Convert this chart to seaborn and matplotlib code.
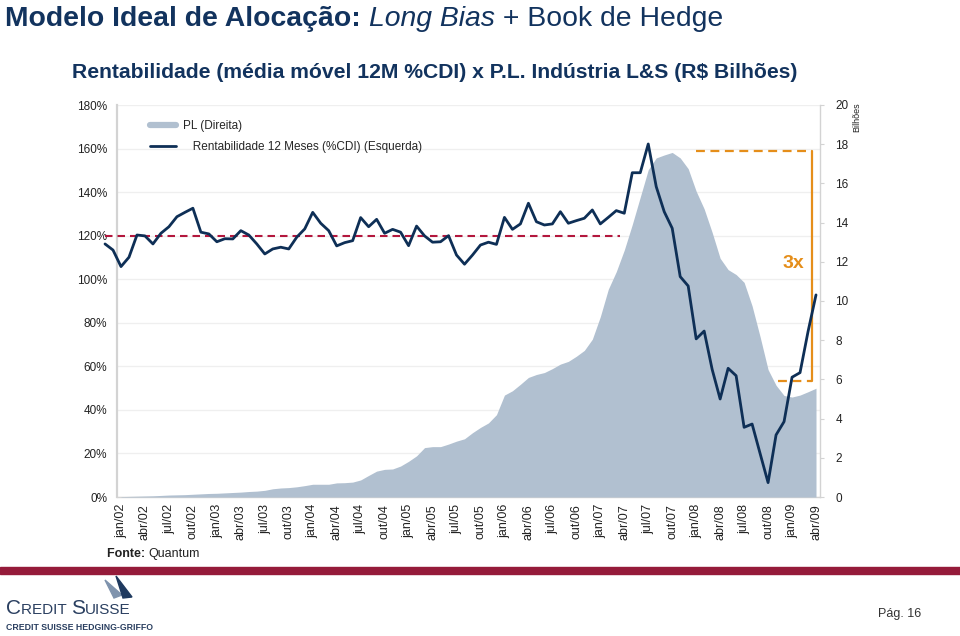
import numpy as np
import pandas as pd
import matplotlib
matplotlib.use("Agg")
import matplotlib.pyplot as plt
import seaborn as sns
from matplotlib import font_manager
from matplotlib.lines import Line2D
from matplotlib.patches import Rectangle, Polygon

# PL da industria L&S (R$ bilhoes), mensal jan/02 .. abr/09
pl_bilhoes = [0.02, 0.03, 0.04, 0.05, 0.06, 0.08, 0.10, 0.11, 0.12, 0.14, 0.16, 0.18,
              0.19, 0.21, 0.23, 0.25, 0.28, 0.30, 0.34, 0.42, 0.46, 0.48, 0.52, 0.58,
              0.65, 0.65, 0.65, 0.72, 0.73, 0.76, 0.87, 1.10, 1.32, 1.41, 1.43, 1.58,
              1.82, 2.10, 2.52, 2.57, 2.57, 2.70, 2.85, 2.97, 3.28, 3.55, 3.78, 4.20,
              5.20, 5.42, 5.75, 6.10, 6.25, 6.35, 6.55, 6.78, 6.92, 7.18, 7.48, 8.05,
              9.20, 10.6, 11.5, 12.6, 13.9, 15.3, 16.7, 17.3, 17.45, 17.58, 17.3, 16.75,
              15.6, 14.7, 13.5, 12.18, 11.6, 11.35, 10.95, 9.75, 8.18, 6.5, 5.7, 5.18,
              5.1, 5.2, 5.37, 5.55]

# rentabilidade 12 meses (%CDI), mensal nov/01 .. abr/09
rentab_12m = [116.2, 113.4, 105.8, 110.1, 120.3, 119.9, 116.2, 121.1, 124.1, 128.7,
              130.7, 132.6, 121.6, 120.8, 117.2, 118.6, 118.5, 122.3, 120.3, 116.2,
              111.6, 113.9, 114.7, 113.9, 119.3, 123.1, 130.7, 125.7, 122.3, 115.3,
              116.8, 117.7, 128.3, 124.1, 127.5, 121.1, 122.9, 121.6, 115.4, 124.4,
              119.9, 117.0, 117.2, 120.0, 111.1, 106.9, 111.1, 115.7, 117.0, 116.0,
              128.4, 122.9, 125.4, 134.9, 126.4, 124.9, 125.4, 131.0, 125.7, 126.9,
              128.0, 131.8, 125.4, 128.4, 131.5, 130.3, 148.9, 148.9, 162.1, 142.5,
              131.0, 123.4, 101.2, 96.9, 72.6, 76.2, 58.6, 45.0, 59.1, 55.7,
              32.0, 33.5, 20.0, 6.6, 28.5, 34.6, 55.0, 57.1, 75.9, 92.8]

rotulos_x = ["jan/02", "abr/02", "jul/02", "out/02", "jan/03", "abr/03", "jul/03", "out/03",
             "jan/04", "abr/04", "jul/04", "out/04", "jan/05", "abr/05", "jul/05", "out/05",
             "jan/06", "abr/06", "jul/06", "out/06", "jan/07", "abr/07", "jul/07", "out/07",
             "jan/08", "abr/08", "jul/08", "out/08", "jan/09", "abr/09"]

meta_cdi = 120      # linha tracejada vermelha (%CDI)
pl_pico = 17.65     # marcação laranja superior
pl_atual = 5.9      # marcação laranja inferior

AZUL = "#0E2F56"
AREA = "#B1C0D0"
VERMELHO = "#B3173D"
LARANJA = "#E58E1A"
CINZA = "#D3D3D3"

sns.set_theme(style="white")
plt.rcParams['font.family'] = ['Liberation Sans', 'DejaVu Sans']
nomes = {f.name for f in font_manager.fontManager.ttflist}
NARROW = 'Liberation Sans Narrow' if 'Liberation Sans Narrow' in nomes else 'Liberation Sans'

W, H = 960, 636
fig = plt.figure(figsize=(W / 100, H / 100), dpi=100)
pos = [117 / W, 1 - 497 / H, (820 - 117) / W, (497 - 105) / H]

ax = fig.add_axes(pos)
ax2 = ax.twinx()
ax3 = fig.add_axes(pos, sharex=ax, sharey=ax)
ax3.set_axis_off()
ax3.patch.set_visible(False)

df_pl = pd.DataFrame({"mes": np.arange(len(pl_bilhoes)), "pl": pl_bilhoes})
df_rent = pd.DataFrame({"mes": np.arange(len(rentab_12m)) - 2, "rentab": rentab_12m})

# area do PL (eixo direito)
ax2.fill_between(df_pl["mes"], df_pl["pl"], color=AREA, lw=0, zorder=1)
ax2.set_ylim(0, 20)
ax2.set_yticks(range(0, 21, 2))

# marcações laranja
ax2.plot([72, 86.5], [pl_pico, pl_pico], color=LARANJA, lw=1.6, ls=(0, (4, 2.5)), zorder=3)
ax2.plot([82.2, 86.5], [pl_atual, pl_atual], color=LARANJA, lw=1.6, ls=(0, (4, 2.5)), zorder=3)
ax2.plot([86.5, 86.5], [pl_atual, pl_pico], color=LARANJA, lw=1.6, zorder=3)
ax2.text(84.2, 11.9, "3x", color=LARANJA, fontsize=14, fontweight="bold",
         ha="center", va="center", zorder=3)

# rentabilidade (eixo esquerdo)
ax3.plot([-2, 62.5], [meta_cdi, meta_cdi], color=VERMELHO, lw=1.5,
         ls=(0, (3.6, 2.4)), clip_on=False, zorder=2)
sns.lineplot(data=df_rent, x="mes", y="rentab", ax=ax3, color=AZUL, lw=2.0,
             clip_on=False, zorder=3, legend=False)

ax.set_ylim(0, 180)
ax.set_xlim(-0.5, 87.5)
ax.set_yticks(range(0, 181, 20))
ax.set_yticklabels([f"{v}%" for v in range(0, 181, 20)])
ax.set_xticks(range(0, 88, 3))
ax.set_xticklabels(rotulos_x, rotation=90)
ax.yaxis.grid(True, color="#EFEFEF", lw=0.9)
ax.set_xlabel("")
ax.set_ylabel("")

for s in ["top", "right"]:
    ax.spines[s].set_visible(False)
for s in ["top", "left", "bottom"]:
    ax2.spines[s].set_visible(False)
ax.spines["left"].set_color(CINZA)
ax.spines["left"].set_linewidth(1.6)
ax.spines["bottom"].set_color(CINZA)
ax.spines["bottom"].set_linewidth(1.0)
ax2.spines["right"].set_color(CINZA)
ax2.spines["right"].set_linewidth(1.0)

ax.tick_params(axis="y", length=0, pad=7, labelsize=8.5, labelcolor="#222222")
ax.tick_params(axis="x", length=0, pad=5, labelsize=9, labelcolor="#222222")
ax2.tick_params(axis="y", length=3, width=0.8, color=CINZA, pad=8, labelsize=8.5,
                labelcolor="#222222")

fig.text(857 / W, 1 - 117 / H, "Bilhões", rotation=90, fontsize=6.5,
         ha="center", va="center", color="#222222")

# legenda
handles = [Line2D([], [], color=AREA, lw=4.5), Line2D([], [], color=AZUL, lw=2.0)]
ax3.legend(handles, ["PL (Direita)", "   Rentabilidade 12 Meses (%CDI) (Esquerda)"],
           loc="upper left", bbox_to_anchor=((150 - 117) / 703, (497 - 120) / 392),
           frameon=False, fontsize=8.5, handlelength=2.2, handletextpad=0.6,
           labelspacing=0.75, borderpad=0, borderaxespad=0)

rend = fig.canvas.get_renderer()


def largura(txt, **props):
    t1 = fig.text(0, 0, "|" + txt + "|", **props)
    t2 = fig.text(0, 0, "||", **props)
    w = t1.get_window_extent(rend).width - t2.get_window_extent(rend).width
    t1.remove()
    t2.remove()
    return w


def texto_misto(x_px, y_px, partes, **comum):
    x = x_px
    for txt, props in partes:
        p = dict(comum, **props)
        fig.text(x / W, 1 - y_px / H, txt, va="baseline", **p)
        x += largura(txt, **p)


# titulo
texto_misto(5, 26, [("Modelo Ideal de Alocação: ", {"fontweight": "bold"}),
                    ("Long Bias", {"fontstyle": "italic"}),
                    (" + Book de Hedge", {})],
            family=[NARROW, 'Liberation Sans'], fontsize=20.4, color="#12335E")

fig.text(435 / W, 1 - 72 / H,
         "Rentabilidade (média móvel 12M %CDI) x P.L. Indústria L&S (R$ Bilhões)",
         family=[NARROW, 'Liberation Sans'], fontsize=15.2, fontweight="bold",
         color="#12335E", ha="center", va="center")

texto_misto(107, 557, [("Fonte: ", {"fontweight": "bold"}), ("Quantum", {})],
            fontsize=9, color="#222222")

# faixa e rodape
fig.patches.append(Rectangle((0, 1 - 574 / H), 1, 7 / H, transform=fig.transFigure,
                             color="#951B3A", figure=fig))
texto_misto(6, 614, [("C", {"fontsize": 15}), ("REDIT ", {"fontsize": 11}),
                     ("S", {"fontsize": 15}), ("UISSE", {"fontsize": 11})],
            color="#2A3F60")
fig.patches.append(Polygon([(114 / W, 1 - 598 / H), (105 / W, 1 - 580 / H),
                            (122 / W, 1 - 595 / H)], closed=True, transform=fig.transFigure,
                           color="#7F93AD", figure=fig))
fig.patches.append(Polygon([(123 / W, 1 - 598 / H), (116 / W, 1 - 576 / H),
                            (132 / W, 1 - 597 / H)], closed=True, transform=fig.transFigure,
                           color="#1F3A5F", figure=fig))
fig.text(6 / W, 1 - 627 / H, "CREDIT SUISSE HEDGING-GRIFFO", fontsize=6.3,
         fontweight="bold", color="#2A3F60", va="center")
fig.text(878 / W, 1 - 614 / H, "Pág. 16", fontsize=9, color="#333333", va="center")

fig.savefig("out.png", dpi=100)
